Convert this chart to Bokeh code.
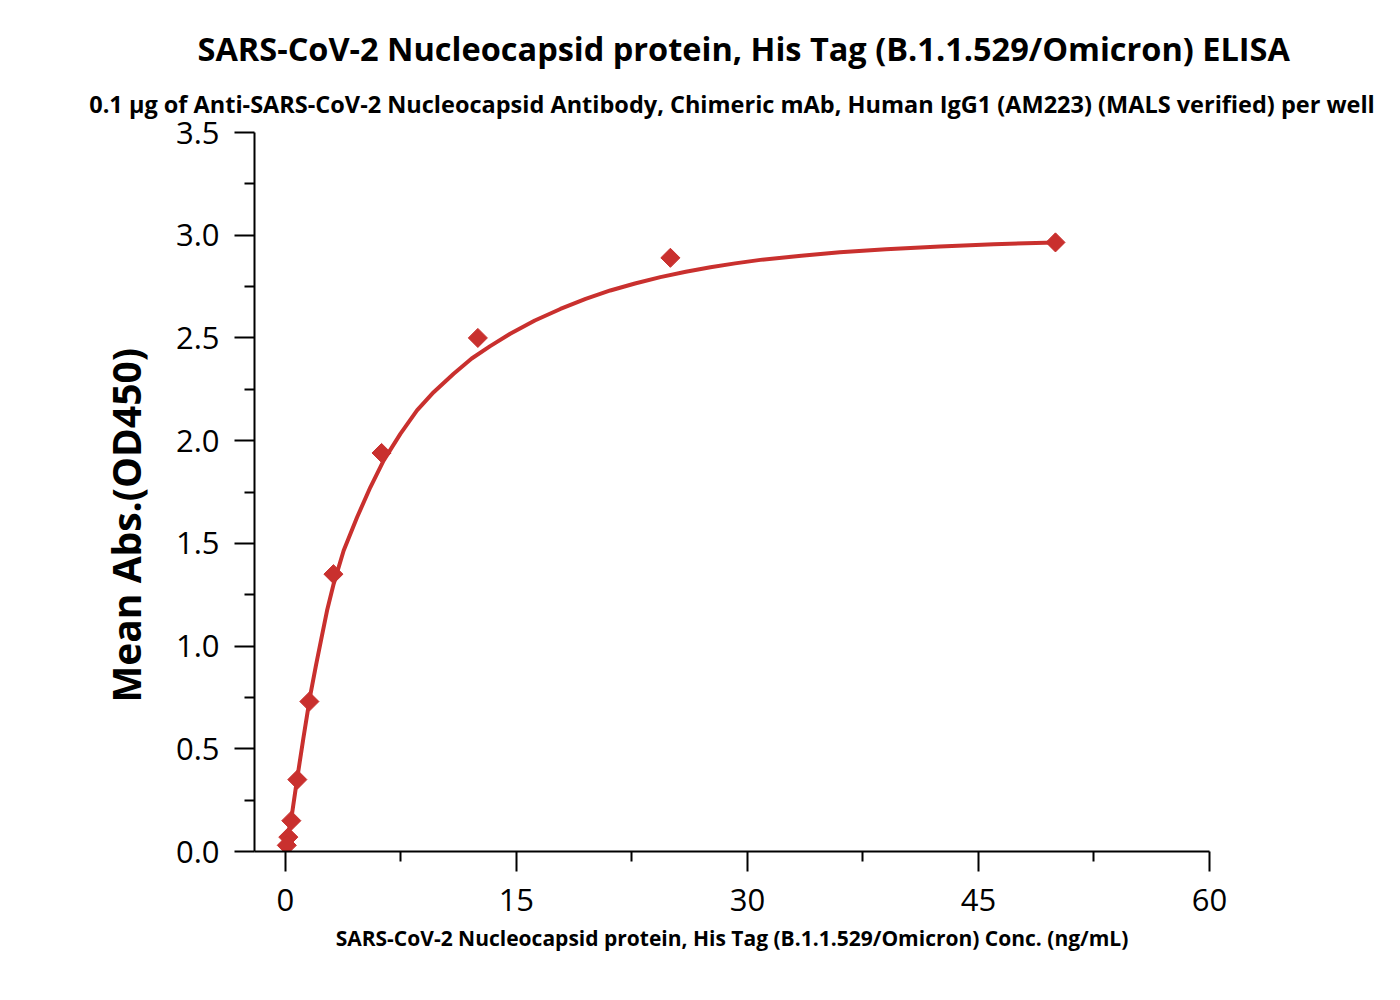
import numpy as np
from bokeh.plotting import figure
from bokeh.models import Title, FixedTicker
from bokeh.embed import file_html
from bokeh.resources import INLINE

# measured points (ng/mL, OD450)
conc = [50, 25, 12.5, 6.25, 3.125, 1.5625, 0.78125, 0.390625, 0.1953125, 0.09765625]
od450 = [2.965, 2.89, 2.50, 1.94, 1.35, 0.73, 0.35, 0.15, 0.07, 0.03]

# fitted curve
fit_x = [0.0, 0.2, 0.43, 0.76, 1.17, 1.62, 2.0, 2.35, 2.71, 3.14, 3.79, 4.66, 5.52,
         6.38, 7.47, 8.55, 9.63, 10.93, 12.1, 13.3, 14.6, 16.2, 17.86, 19.5, 21.1,
         22.7, 24.35, 26.0, 27.6, 29.2, 30.84, 33.5, 36.0, 39.0, 42.5, 46.0, 50]
fit_y = [0.03, 0.09, 0.18, 0.35, 0.55, 0.76, 0.91, 1.04, 1.173, 1.303, 1.465, 1.627,
         1.773, 1.903, 2.033, 2.147, 2.236, 2.326, 2.40, 2.46, 2.52, 2.585, 2.641,
         2.69, 2.731, 2.765, 2.796, 2.822, 2.844, 2.863, 2.88, 2.90, 2.917, 2.932,
         2.945, 2.956, 2.965]

x_ticks = [0, 15, 30, 45, 60]
y_ticks = [0.0, 0.5, 1.0, 1.5, 2.0, 2.5, 3.0, 3.5]
x_minor = [7.5, 22.5, 37.5, 52.5]
y_minor = [0.25, 0.75, 1.25, 1.75, 2.25, 2.75, 3.25]

title_text = "SARS-CoV-2 Nucleocapsid protein, His Tag (B.1.1.529/Omicron) ELISA"
subtitle_text = "0.1 \u00b5g of Anti-SARS-CoV-2 Nucleocapsid Antibody, Chimeric mAb, Human IgG1 (AM223) (MALS verified) per well"
x_label = "SARS-CoV-2 Nucleocapsid protein, His Tag (B.1.1.529/Omicron) Conc. (ng/mL)"
y_label = "Mean Abs.(OD450)"

RED = "#C9302E"
FONT = "Open Sans"

p = figure(frame_width=955, frame_height=719, x_range=(-2, 60), y_range=(0, 3.5),
           output_backend="svg", toolbar_location=None,
           min_border_left=254, min_border_right=170, min_border_top=132, min_border_bottom=128)
p.title = None
p.outline_line_color = None
p.grid.grid_line_color = None
p.background_fill_color = "white"
p.border_fill_color = "white"

sub = Title(text=subtitle_text, align="center", text_font=FONT, text_font_style="bold",
            text_font_size="23.5px", text_color="black", standoff=26)
ttl = Title(text=title_text, align="left", offset=-57, text_font=FONT, text_font_style="bold",
            text_font_size="32.5px", text_color="black", standoff=3)
p.add_layout(sub, "above")
p.add_layout(ttl, "above")

ylab = Title(text=y_label, align="left", text_font=FONT, text_font_style="bold",
             text_font_size="39px", text_color="black", standoff=41, offset=149)
p.add_layout(ylab, "left")

for ax in (p.xaxis[0], p.yaxis[0]):
    ax.axis_line_width = 2
    ax.axis_line_color = "black"
    ax.major_tick_line_width = 2
    ax.minor_tick_line_width = 2
    ax.major_tick_in = 0
    ax.minor_tick_in = 0
    ax.major_tick_out = 20
    ax.minor_tick_out = 10
    ax.major_label_text_font = FONT
    ax.major_label_text_font_size = "31px"
    ax.major_label_text_color = "black"
    ax.axis_label_text_font = FONT
    ax.axis_label_text_font_style = "bold"
    ax.axis_label_text_color = "black"

p.xaxis.ticker = FixedTicker(ticks=x_ticks, minor_ticks=x_minor)
p.yaxis.ticker = FixedTicker(ticks=y_ticks, minor_ticks=y_minor)
p.yaxis.major_label_overrides = {v: f"{v:.1f}" for v in y_ticks}
p.xaxis.major_label_standoff = 17
p.yaxis.major_label_standoff = 15

p.xaxis.axis_label = x_label
p.xaxis.axis_label_text_font_size = "21px"
p.xaxis.axis_label_standoff = 10

p.line(fit_x, fit_y, line_color=RED, line_width=4)
p.scatter(conc, od450, marker="square", size=13.5, angle=np.pi / 4,
          fill_color=RED, line_color=RED)

open("out.html", "w").write(file_html(p, INLINE))
